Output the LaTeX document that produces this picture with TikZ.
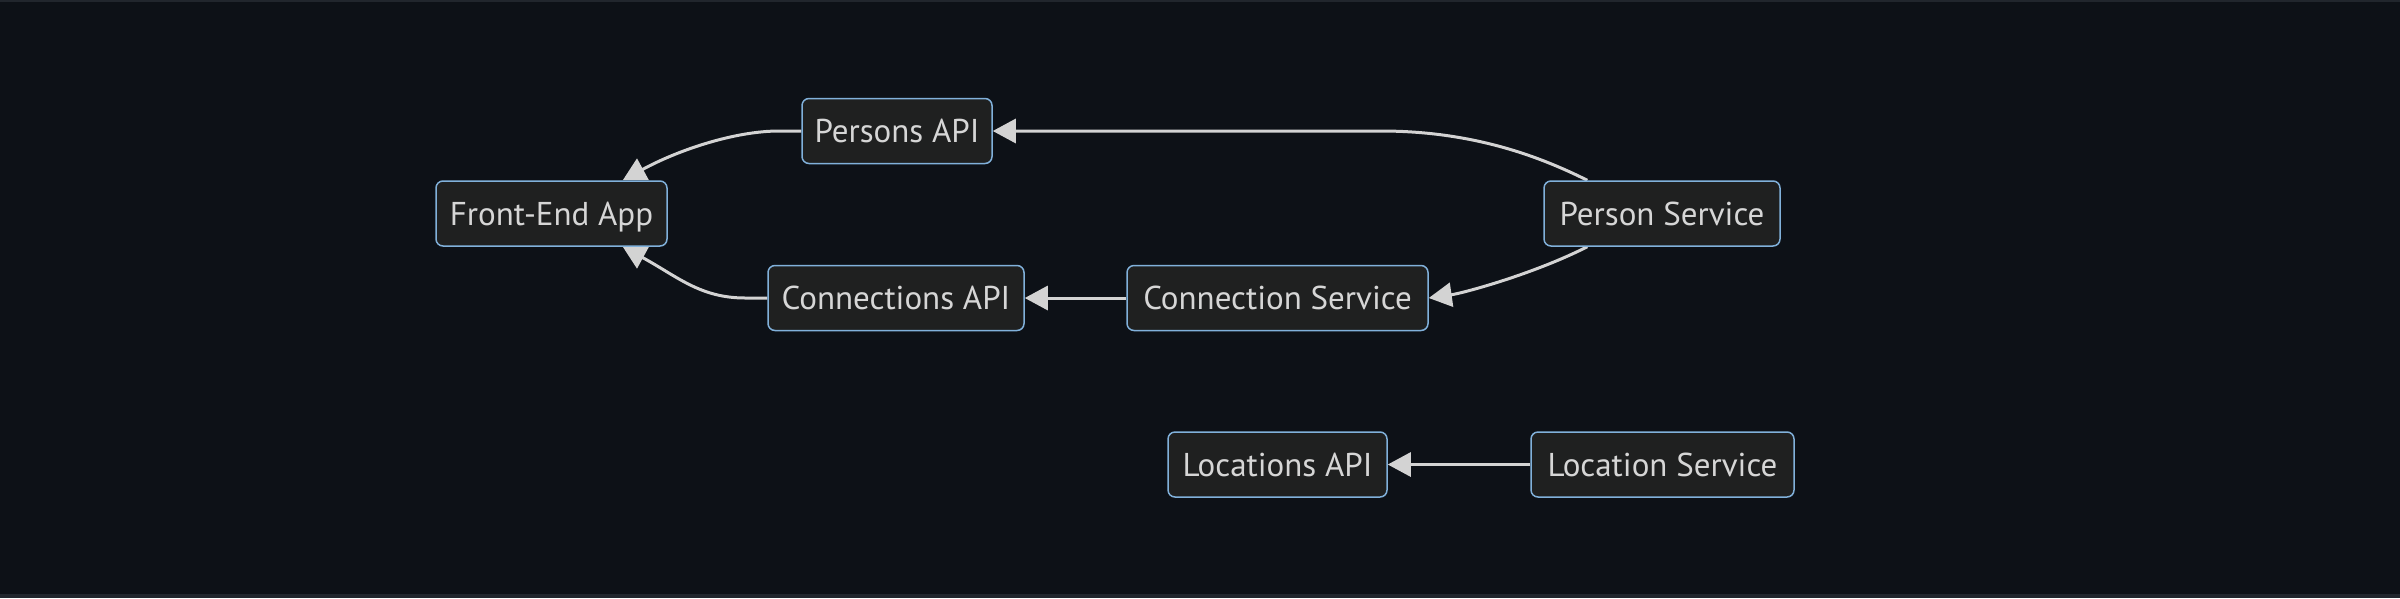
\documentclass[tikz,border=0pt]{standalone}
\usepackage{fontspec}
\setmainfont{PT Sans}
\usetikzlibrary{arrows.meta,calc}
\definecolor{bgc}{HTML}{0D1117}
\definecolor{bandc}{HTML}{21262D}
\definecolor{nodefill}{HTML}{1F2020}
\definecolor{nodeborder}{HTML}{81B1DB}
\definecolor{txtc}{HTML}{D6D6D6}
\definecolor{edgec}{HTML}{D3D3D3}
\pgfdeclarelayer{bg}
\pgfdeclarelayer{edgelayer}
\pgfsetlayers{bg,edgelayer,main}
\tikzset{
  box/.style={draw=nodeborder, fill=nodefill, line width=1.5pt, rounded corners=7pt,
    minimum height=65pt, inner sep=0pt, text=txtc,
    text height=23pt, text depth=0pt,
    font=\fontsize{33}{38}\selectfont},
  edge/.style={draw=edgec, line width=3pt, -{Triangle[length=23pt,width=24pt]}}
}
\begin{document}
\begin{tikzpicture}[x=1pt,y=-1pt]
\begin{pgfonlayer}{bg}
\fill[bgc] (0,0) rectangle (2400,598);
\fill[bandc] (0,0) rectangle (2400,1.5);
\fill[bandc] (0,594) rectangle (2400,598);
\end{pgfonlayer}
\useasboundingbox (0,0) rectangle (2400,598);

\node[box, minimum width=231pt] (fe) at (551.5,213.5) {Front-End App};
\node[box, minimum width=190pt] (pa) at (897,131) {Persons API};
\node[box, minimum width=256pt] (ca) at (896,298) {Connections API};
\node[box, minimum width=301pt] (cs) at (1277.5,298) {Connection Service};
\node[box, minimum width=236pt] (ps) at (1662,213.5) {Person Service};
\node[box, minimum width=219pt] (la) at (1277.5,464.5) {Locations API};
\node[box, minimum width=263pt] (ls) at (1662.5,464.5) {Location Service};

\begin{pgfonlayer}{edgelayer}
\draw[edge] (pa.west) -- ++(-22,0) .. controls +(-45,0) and +(55,-30) .. ($(fe.north east)+(-45,0)$);
\draw[edge] (ca.west) -- ++(-22,0) .. controls +(-45,0) and +(55,30) .. ($(fe.south east)+(-45,0)$);
\draw[edge] ($(ps.north west)+(44,0)$) .. controls +(-50,-25) and +(90,0) .. ($(pa.east)+(388,0)$) -- (pa.east);
\draw[edge] ($(ps.south west)+(44,0)$) .. controls +(-53,27) and +(35,-5) .. (cs.east);
\draw[edge] (cs.west) -- (ca.east);
\draw[edge] (ls.west) -- (la.east);
\end{pgfonlayer}
\end{tikzpicture}
\end{document}
